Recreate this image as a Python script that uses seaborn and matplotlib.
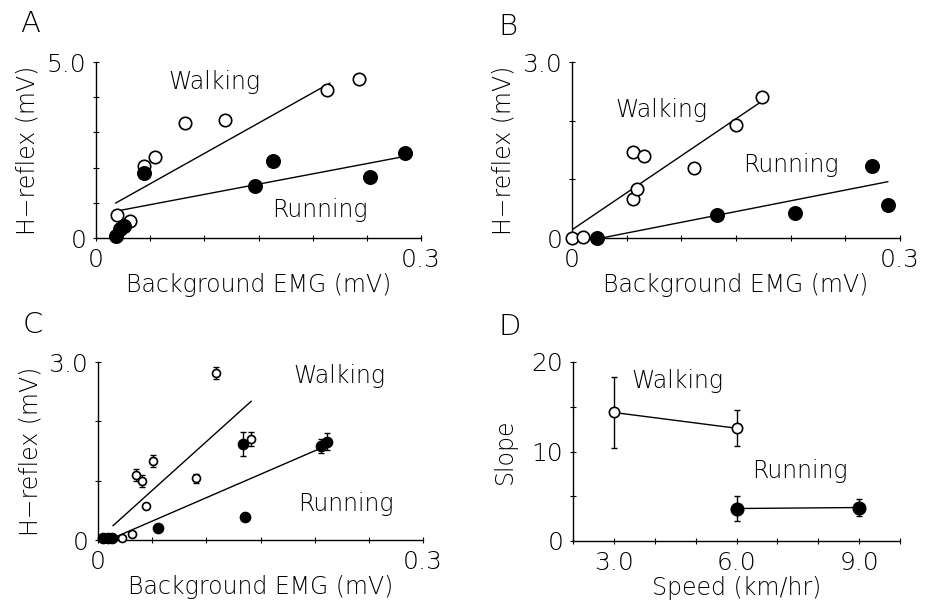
import matplotlib
matplotlib.use("Agg")
import matplotlib.pyplot as plt
import seaborn as sns
import pandas as pd

# ---------------- data ----------------
A_walk_x = [0.019, 0.031, 0.044, 0.054, 0.082, 0.119, 0.213, 0.243]
A_walk_y = [0.66, 0.47, 2.04, 2.30, 3.27, 3.34, 4.21, 4.52]
A_run_x = [0.018, 0.022, 0.026, 0.044, 0.147, 0.163, 0.253, 0.285]
A_run_y = [0.05, 0.26, 0.35, 1.85, 1.47, 2.18, 1.73, 2.41]
A_walk_fit_x = [0.018, 0.216]
A_walk_fit_y = [0.99, 4.40]
A_run_fit_x = [0.018, 0.282]
A_run_fit_y = [0.76, 2.30]

B_walk_x = [0.0, 0.0098, 0.056, 0.059, 0.056, 0.066, 0.112, 0.150, 0.174]
B_walk_y = [0.0, 0.02, 0.67, 0.83, 1.47, 1.39, 1.19, 1.92, 2.40]
B_run_x = [0.023, 0.133, 0.204, 0.274, 0.289]
B_run_y = [0.0, 0.40, 0.43, 1.23, 0.57]
B_walk_fit_x = [0.0, 0.172]
B_walk_fit_y = [0.14, 2.31]
B_run_fit_x = [0.027, 0.289]
B_run_fit_y = [0.0, 0.96]

C_walk_x = [0.022, 0.031, 0.0354, 0.041, 0.044, 0.051, 0.090, 0.109, 0.1415]
C_walk_y = [0.03, 0.10, 1.09, 1.00, 0.58, 1.33, 1.04, 2.81, 1.70]
C_walk_err = [0, 0, 0.10, 0.10, 0, 0.10, 0.08, 0.10, 0.12]
C_run_x = [0.005, 0.009, 0.013, 0.055, 0.134, 0.136, 0.206, 0.211]
C_run_y = [0.04, 0.04, 0.04, 0.21, 1.62, 0.38, 1.58, 1.66]
C_run_err = [0, 0, 0, 0, 0.20, 0, 0.12, 0.15]
C_walk_fit_x = [0.0138, 0.1415]
C_walk_fit_y = [0.24, 2.34]
C_run_fit_x = [0.011, 0.206]
C_run_fit_y = [0.01, 1.55]

D_walk_speed = [3.0, 6.0]
D_walk_slope = [14.36, 12.6]
D_walk_err = [4.0, 2.0]
D_run_speed = [6.0, 9.0]
D_run_slope = [3.63, 3.74]
D_run_err = [1.4, 1.0]

emg_ticks = [0, 0.05, 0.10, 0.15, 0.20, 0.25, 0.30]
emg_ticklabels = ["0", "", "", "", "", "", "0.3"]

# ---------------- style ----------------
sns.set_style("ticks")
plt.rcParams["font.family"] = ["DejaVu Sans"]
plt.rcParams["font.weight"] = "light"
plt.rcParams["axes.labelweight"] = "light"
plt.rcParams["axes.linewidth"] = 1.0
for k in ["text.color", "axes.labelcolor", "xtick.color", "ytick.color",
          "axes.edgecolor", "xtick.labelcolor", "ytick.labelcolor"]:
    plt.rcParams[k] = "black"

fig = plt.figure(figsize=(9.31, 6.02), dpi=100)
W, H = 931, 602


def add_ax(left, top, right, bottom):
    return fig.add_axes([left / W, 1 - bottom / H, (right - left) / W, (bottom - top) / H])


axA = add_ax(96, 62, 421, 238)
axB = add_ax(572, 62, 900, 238)
axC = add_ax(98, 362, 423, 540)
axD = add_ax(573, 362, 900, 541)

FS = 17
TFS = 18


def style(ax, xlabel, ylabel, wpx, hpx):
    sns.despine(ax=ax)
    ax.tick_params(direction="inout", length=4, width=0.8, labelsize=TFS, pad=5)
    ax.set_xlabel(xlabel, fontsize=FS)
    ax.set_ylabel(ylabel, fontsize=FS)
    ax.xaxis.set_label_coords(0.5, -47 / hpx)
    ax.xaxis.label.set_va("center")
    ax.yaxis.set_label_coords(-68 / wpx, 0.5)
    ax.yaxis.label.set_va("center")


def scatter(ax, x, y, filled, s):
    df = pd.DataFrame({"x": x, "y": y})
    sns.scatterplot(data=df, x="x", y="y", ax=ax, marker="o", s=s,
                    color="black" if filled else "white", edgecolor="black",
                    linewidth=1.2, clip_on=False, zorder=3, legend=False)


def fitline(ax, x, y):
    df = pd.DataFrame({"x": x, "y": y})
    sns.lineplot(data=df, x="x", y="y", ax=ax, color="black", lw=1.0,
                 estimator=None, sort=False, zorder=2)


# Panel A
fitline(axA, A_walk_fit_x, A_walk_fit_y)
fitline(axA, A_run_fit_x, A_run_fit_y)
scatter(axA, A_walk_x, A_walk_y, False, 80)
scatter(axA, A_run_x, A_run_y, True, 92)
axA.set_xlim(0, 0.3)
axA.set_ylim(0, 5.0)
axA.set_xticks(emg_ticks)
axA.set_xticklabels(emg_ticklabels)
axA.set_yticks([0, 1, 2, 3, 4, 5])
axA.set_yticklabels(["0", "", "", "", "", "5.0"])
style(axA, "Background EMG (mV)", "H\u2212reflex (mV)", 325, 176)
axA.text(0.109, 4.42, "Walking", fontsize=FS, ha="center", va="center")
axA.text(0.207, 0.80, "Running", fontsize=FS, ha="center", va="center")

# Panel B
fitline(axB, B_walk_fit_x, B_walk_fit_y)
fitline(axB, B_run_fit_x, B_run_fit_y)
scatter(axB, B_walk_x, B_walk_y, False, 80)
scatter(axB, B_run_x, B_run_y, True, 92)
axB.set_xlim(0, 0.3)
axB.set_ylim(0, 3.0)
axB.set_xticks(emg_ticks)
axB.set_xticklabels(emg_ticklabels)
axB.set_yticks([0, 1, 2, 3])
axB.set_yticklabels(["0", "", "", "3.0"])
style(axB, "Background EMG (mV)", "H\u2212reflex (mV)", 328, 176)
axB.text(0.082, 2.18, "Walking", fontsize=FS, ha="center", va="center")
axB.text(0.200, 1.25, "Running", fontsize=FS, ha="center", va="center")

# Panel C
fitline(axC, C_walk_fit_x, C_walk_fit_y)
fitline(axC, C_run_fit_x, C_run_fit_y)
axC.errorbar(C_walk_x, C_walk_y, yerr=C_walk_err, fmt="none", ecolor="black",
             elinewidth=1.0, capsize=2, zorder=2.5)
axC.errorbar(C_run_x, C_run_y, yerr=C_run_err, fmt="none", ecolor="black",
             elinewidth=1.0, capsize=2, zorder=2.5)
scatter(axC, C_walk_x, C_walk_y, False, 33)
scatter(axC, C_run_x, C_run_y, True, 52)
axC.set_xlim(0, 0.3)
axC.set_ylim(0, 3.0)
axC.set_xticks(emg_ticks)
axC.set_xticklabels(emg_ticklabels)
axC.set_yticks([0, 1, 2, 3])
axC.set_yticklabels(["0", "", "", "3.0"])
style(axC, "Background EMG (mV)", "H\u2212reflex (mV)", 325, 178)
axC.text(0.223, 2.76, "Walking", fontsize=FS, ha="center", va="center")
axC.text(0.229, 0.61, "Running", fontsize=FS, ha="center", va="center")

# Panel D
dfw = pd.DataFrame({"speed": D_walk_speed, "slope": D_walk_slope})
dfr = pd.DataFrame({"speed": D_run_speed, "slope": D_run_slope})
sns.lineplot(data=dfw, x="speed", y="slope", ax=axD, color="black", lw=1.0,
             estimator=None, zorder=2)
sns.lineplot(data=dfr, x="speed", y="slope", ax=axD, color="black", lw=1.0,
             estimator=None, zorder=2)
axD.errorbar(D_walk_speed, D_walk_slope, yerr=D_walk_err, fmt="none", ecolor="black",
             elinewidth=1.0, capsize=2, zorder=2.5)
axD.errorbar(D_run_speed, D_run_slope, yerr=D_run_err, fmt="none", ecolor="black",
             elinewidth=1.0, capsize=2, zorder=2.5)
scatter(axD, D_walk_speed, D_walk_slope, False, 55)
scatter(axD, D_run_speed, D_run_slope, True, 80)
axD.set_xlim(2.0, 10.0)
axD.set_ylim(0, 20)
axD.set_xticks([2, 3, 4, 5, 6, 7, 8, 9, 10])
axD.set_xticklabels(["", "3.0", "", "", "6.0", "", "", "9.0", ""])
axD.set_yticks([0, 5, 10, 15, 20])
axD.set_yticklabels(["0", "", "10", "", "20"])
style(axD, "Speed (km/hr)", "Slope", 327, 179)
axD.text(4.55, 17.9, "Walking", fontsize=FS, ha="center", va="center")
axD.text(7.56, 7.85, "Running", fontsize=FS, ha="center", va="center")

# Panel letters
for lbl, (px, py) in {"A": (30, 24), "B": (508, 27), "C": (33, 325), "D": (510, 327)}.items():
    fig.text(px / W, 1 - py / H, lbl, fontsize=21, ha="center", va="center")

fig.savefig("out.png", dpi=100)
